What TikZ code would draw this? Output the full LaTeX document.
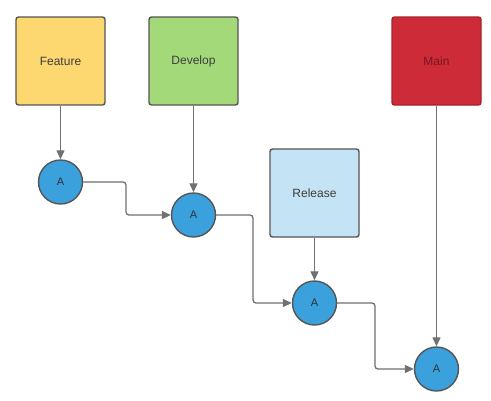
\documentclass[tikz,border=0pt]{standalone}
\usepackage{fontspec}
\setmainfont{Liberation Sans}
\usetikzlibrary{arrows.meta}
\definecolor{featfill}{HTML}{FDD870}
\definecolor{devfill}{HTML}{A4D97A}
\definecolor{relfill}{HTML}{C4E3F5}
\definecolor{mainfill}{HTML}{CC2B37}
\definecolor{mainborder}{HTML}{A8222C}
\definecolor{circfill}{HTML}{3AA1DD}
\definecolor{edgegray}{HTML}{555555}
\definecolor{linegray}{HTML}{707070}
\definecolor{txtgray}{HTML}{3D3D3D}
\tikzset{
  x=1pt, y=-1pt,
  branch/.style={draw=edgegray, line width=1.4pt, rounded corners=2.5pt, minimum width=89pt, minimum height=88pt, inner sep=0pt, font=\fontsize{12}{14}\selectfont, text=txtgray},
  commit/.style={circle, draw=edgegray, line width=1.4pt, fill=circfill, minimum size=44pt, inner sep=0pt, font=\fontsize{11}{13}\selectfont, text=txtgray!80!black},
  link/.style={draw=linegray, line width=1.3pt, rounded corners=3pt, -{Triangle[length=9pt,width=8pt]}}
}
\begin{document}
\begin{tikzpicture}
\useasboundingbox (0,0) rectangle (491,400);
\fill[white] (0,0) rectangle (491,400);
\node[branch, fill=featfill] (feature) at (60.5,61) {Feature};
\node[branch, fill=devfill] (develop) at (193.5,61) {Develop};
\node[branch, fill=mainfill, draw=mainborder, text=mainborder!70!black] (main) at (436.5,61) {Main};
\node[branch, fill=relfill] (release) at (314.5,193) {Release};
\node[commit] (c1) at (60.5,182) {A};
\node[commit] (c2) at (193.5,215) {A};
\node[commit] (c3) at (314.5,303) {A};
\node[commit] (c4) at (436.5,369) {A};
\draw[link] (feature) -- (c1);
\draw[link] (develop) -- (c2);
\draw[link] (release) -- (c3);
\draw[link] (main) -- (c4);
\draw[link] (c1.east) -| (126,200) |- (c2.west);
\draw[link] (c2.east) -| (253,260) |- (c3.west);
\draw[link] (c3.east) -| (375,340) |- (c4.west);
\end{tikzpicture}
\end{document}
